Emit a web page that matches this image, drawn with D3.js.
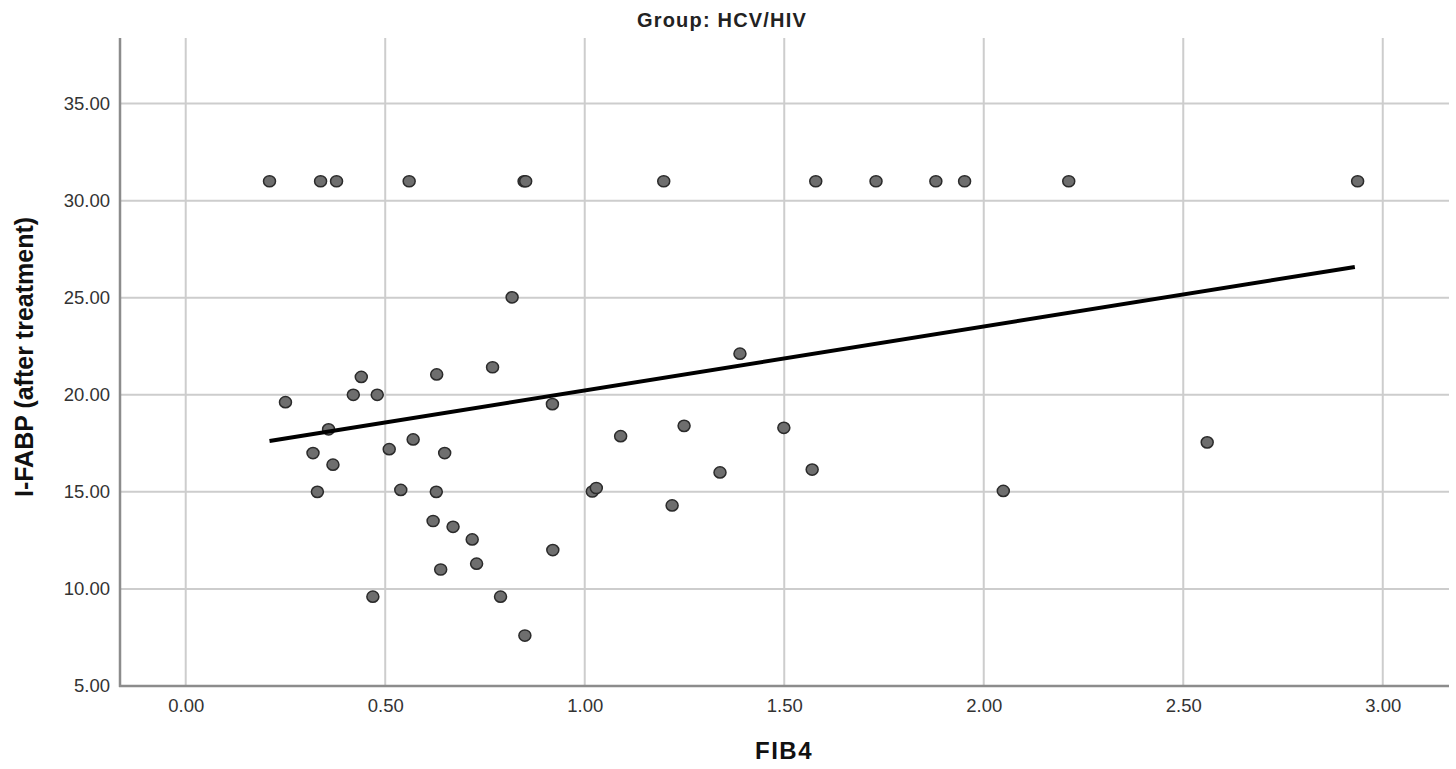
<!DOCTYPE html>
<html>
<head>
<meta charset="utf-8">
<script src="https://cdn.jsdelivr.net/npm/d3@7"></script>
<style>
  html, body { margin: 0; padding: 0; background: #fff; }
  svg { display: block; font-family: "Liberation Sans", Arial, sans-serif; }
</style>
</head>
<body>
<svg id="chart" width="1456" height="769"></svg>
<script>
// ---- data ----
const fib4 = [
  0.21, 0.338, 0.378, 0.56, 0.848, 0.852, 1.198, 1.579, 1.73, 1.88, 1.952, 2.213, 2.937,
  0.25, 0.44, 0.42, 0.48, 0.358, 0.319, 0.369, 0.33, 0.629, 0.769,
  0.51, 0.57, 0.649, 0.539, 0.628, 0.62, 0.67, 0.718, 0.729, 0.639,
  0.469, 0.789, 0.85, 0.818, 0.919, 0.92, 1.019, 1.029, 1.09, 1.219,
  1.249, 1.339, 1.389, 1.499, 1.57, 2.049, 2.56
];
const ifabp = [
  31.0, 31.0, 31.0, 31.0, 31.0, 31.0, 31.0, 31.0, 31.0, 31.0, 31.0, 31.0, 31.0,
  19.62, 20.92, 20.0, 20.0, 18.22, 17.0, 16.4, 15.0, 21.05, 21.42,
  17.2, 17.7, 17.0, 15.1, 15.0, 13.5, 13.2, 12.55, 11.3, 11.0,
  9.6, 9.6, 7.6, 25.02, 19.52, 12.0, 15.02, 15.2, 17.87, 14.3,
  18.4, 16.0, 22.12, 18.3, 16.15, 15.05, 17.55
];
const fitRange = [0.21, 2.93];
const fitIntercept = 16.93;
const fitSlope = 3.295;
const xTicks = [0, 0.5, 1, 1.5, 2, 2.5, 3];
const yTicks = [5, 10, 15, 20, 25, 30, 35];
const chartTitle = "Group: HCV/HIV";
const xTitle = "FIB4";
const yTitle = "I-FABP (after treatment)";

// ---- layout ----
const L = 120, R = 1449, T = 38, B = 686;
const svg = d3.select("#chart");

const x = d3.scaleLinear().domain([-0.1647, 3.166]).range([L, R]);
const y = d3.scaleLinear().domain([5, 38.38]).range([B, T]);
const fmt = d3.format(".2f");

// gridlines
const grid = svg.append("g");
grid.selectAll("line.vx").data(xTicks).join("line")
  .attr("x1", d => x(d)).attr("x2", d => x(d))
  .attr("y1", T).attr("y2", B)
  .attr("stroke", "#cdcdcd").attr("stroke-width", 2);
grid.selectAll("line.hy").data(yTicks).join("line")
  .attr("x1", L).attr("x2", R)
  .attr("y1", d => y(d)).attr("y2", d => y(d))
  .attr("stroke", "#cdcdcd").attr("stroke-width", 2);

// axes (labels via d3 axes, no tick marks)
const yAxis = svg.append("g").attr("transform", `translate(${L},0)`)
  .call(d3.axisLeft(y).tickValues(yTicks).tickFormat(fmt).tickSize(0).tickPadding(10));
const xAxis = svg.append("g").attr("transform", `translate(0,${B})`)
  .call(d3.axisBottom(x).tickValues(xTicks).tickFormat(fmt).tickSize(0).tickPadding(13));
[yAxis, xAxis].forEach(a => {
  a.select(".domain").remove();
  a.selectAll("text").attr("fill", "#333").style("font-size", "18.5px")
    .style("font-family", '"Liberation Sans", Arial, sans-serif');
});

// axis lines
svg.append("line").attr("x1", L).attr("x2", L).attr("y1", T).attr("y2", B + 1)
  .attr("stroke", "#8c8c8c").attr("stroke-width", 2.5);
svg.append("line").attr("x1", L - 1).attr("x2", R).attr("y1", B).attr("y2", B)
  .attr("stroke", "#8c8c8c").attr("stroke-width", 2.5);

// points
const pts = fib4.map((v, i) => ({ x: v, y: ifabp[i] }));
svg.append("g").selectAll("ellipse").data(pts).join("ellipse")
  .attr("cx", d => x(d.x)).attr("cy", d => y(d.y)).attr("rx", 6).attr("ry", 5.6)
  .attr("fill", "#6e6e6e").attr("stroke", "#2b2b2b").attr("stroke-width", 1.5);

// fit line
const line = d3.line().x(d => x(d)).y(d => y(fitIntercept + fitSlope * d));
svg.append("path").datum(fitRange).attr("d", line)
  .attr("fill", "none").attr("stroke", "#000").attr("stroke-width", 4);

// titles
svg.append("text").attr("x", 722).attr("y", 27).attr("text-anchor", "middle")
  .style("font-size", "20px").style("font-weight", "bold").style("letter-spacing", "1.2px")
  .attr("fill", "#222").text(chartTitle);
svg.append("text").attr("x", 784).attr("y", 759).attr("text-anchor", "middle")
  .style("font-size", "24px").style("font-weight", "bold").style("letter-spacing", "1.5px")
  .attr("fill", "#111").text(xTitle);
svg.append("text").attr("transform", `translate(33,357) rotate(-90)`).attr("text-anchor", "middle")
  .style("font-size", "25px").style("font-weight", "bold")
  .attr("fill", "#111").text(yTitle);
</script>
</body>
</html>
